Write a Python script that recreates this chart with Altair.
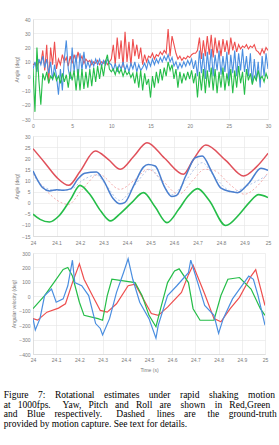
import altair as alt
import pandas as pd

# ---------------- Panel 1: 0-30 s, angle (deg) ----------------
T1 = [i * 0.25 for i in range(121)]
YAW1 = [8, 9, 7, 10,  9, 18, 4, 22,  -5, 20, 8, 24,  5, 12, 8, 15,
        10, 13, 7, 14,  9, 15, 10, 17,  11, 14, 9, 12,  10, 11, 8, 10,
        9, 11, 8, 10,  9, 11, 8, 10,  12, 22, 8, 27,  12, 25, 6, 31,
        10, 24, 7, 26,  14, 22, 12, 20,  8, 15, 10, 14,  13, 16, 12, 15,
        14, 17, 15, 18,  16, 33, 14, 28,  22, 16, 12, 14,  11, 13, 12, 14,
        13, 15, 16, 16,  18, 27, 12, 25,  14, 28, 15, 29,  13, 27, 16, 25,
        14, 26, 17, 25,  15, 27, 18, 24,  17, 22, 19, 21,  20, 22, 19, 21,
        20, 22, 18, 17,  15, 19, 16, 20,  18]
ROLL1 = [5, 10, 3, 12,  8, 14, 6, 12,  2, 10, -3, 8,  0, -13, 5, -10,
         12, 25, 5, -2,  20, 3, 15, -3,  16, 4, 17, 5,  10, 6, 11, 7,
         12, 8, 12, 7,  11, 8, 12, 9,  8, 4, 9, 3,  8, 5, 10, 4,
         8, 3, 9, 5,  10, 3, 8, 4,  6, 9, 5, 11,  7, 12, 8, 12,
         9, 13, 10, 14,  11, 15, 10, 13,  7, 10, 5, 9,  6, 10, 7, 11,
         8, 12, 5, 11,  0, 18, 2, 16,  -2, 17, 3, 19,  0, 15, 4, 18,
         1, 14, 3, 17,  -3, 15, 2, 18,  0, 16, 4, 19,  3, 14, 0, 16,
         -5, 12, -3, 10,  -8, 14, 0, 16,  5]
PITCH1 = [5, -25, 20, -3,  -20, 2, -3, 3,  -5, 0, -2, 2,  -3, 0, -5, 2,
          -4, 1, -8, 3,  -3, 4, -10, 5,  -10, 5, -9, 3,  -8, 5, -7, 6,
          -4, 7, -2, 8,  0, 10, 15, 5,  3, 5, 1, 6,  2, 5, 0, 4,
          1, 3, -1, 2,  -5, 3, -8, 4,  -10, 2, -6, -2,  -15, 0, -8, 3,
          -5, 5, -3, 6,  0, 10, 4, 8,  -2, 5, -8, 3,  -5, 2, -3, 3,
          -2, 4, -5, 2,  -15, 3, -10, 5,  -12, 4, -8, 6,  -10, 5, -12, 3,
          -8, 6, -10, 2,  -7, 5, -12, 4,  -8, 7, -5, 3,  -13, 5, -3, 2,
          -6, 0, -3, 4,  -2, 0, -4, 2,  -2]

# ---------------- Panel 2: 24-25 s, angle (deg) ----------------
T2_YAW = [24.0, 24.05, 24.1, 24.152, 24.2, 24.265, 24.32, 24.372, 24.43, 24.485,
          24.56, 24.64, 24.68, 24.735, 24.82, 24.896, 24.95, 25.0]
V2_YAW = [24.3, 18, 11.5, 7.8, 14, 23.2, 19.5, 15, 21, 27,
          20, 12.8, 19, 25.9, 19, 12, 16, 22.2]
T2_YAW_GT = [24.0, 24.06, 24.15, 24.21, 24.28, 24.37, 24.43, 24.49, 24.55, 24.62,
             24.68, 24.73, 24.77, 24.84, 24.9, 24.95, 25.0]
V2_YAW_GT = [13, 5, -0.8, 6, 12.8, 6, 10, 15, 10, 3.8,
             10, 15, 14.5, 8, 3.8, 7, 13.5]
T2_ROLL = [24.0, 24.02, 24.04, 24.07, 24.1, 24.13, 24.16, 24.19, 24.22, 24.27,
           24.3, 24.34, 24.37, 24.39, 24.43, 24.47, 24.49, 24.52, 24.56, 24.59,
           24.61, 24.65, 24.69, 24.72, 24.76, 24.8, 24.84, 24.87, 24.92, 24.97, 25.0]
V2_ROLL = [14.2, 10, 6.8, 5.3, 5.8, 5.6, 6.2, 10.5, 13.2, 13.8,
           10, 2, -0.5, 0, 8, 16, 17.2, 16.5, 7, 2.8,
           3.2, 12, 20.2, 21, 14, 6.5, 5, 4.5, 9, 15.5, 14.5]
T2_ROLL_GT = [24.0, 24.04, 24.1, 24.16, 24.21, 24.27, 24.31, 24.37, 24.43, 24.5,
              24.55, 24.59, 24.65, 24.72, 24.77, 24.85, 24.92, 25.0]
V2_ROLL_GT = [13, 7.5, 5.5, 6, 10, 12.5, 8, 1, 7.5, 15,
              9, 3.5, 10, 18, 12, 5, 8, 12.5]
T2_PITCH = [24.0, 24.03, 24.07, 24.11, 24.16, 24.2, 24.24, 24.29, 24.33, 24.37,
            24.42, 24.47, 24.52, 24.57, 24.62, 24.66, 24.7, 24.75, 24.82, 24.88,
            24.92, 24.96, 25.0]
V2_PITCH = [-5.2, -7.5, -8.7, -6, 1.5, 7.8, 4, -4, -8.2, -5,
            0, 4.5, -2, -9, -3, 3, 6.3, 1, -10.3, -5,
            0, 3.6, 2.3]

# ---------------- Panel 3: 24-25 s, angular velocity ----------------
T3_YAW = [24.0, 24.02, 24.06, 24.11, 24.14, 24.17, 24.2, 24.22, 24.26, 24.29,
          24.32, 24.36, 24.41, 24.44, 24.46, 24.51, 24.54, 24.58, 24.64, 24.67,
          24.69, 24.74, 24.78, 24.81, 24.85, 24.89, 24.94, 24.96, 25.0]
V3_YAW = [-155, -165, -110, -82, -52, 95, 225, 118, -7, -98,
          -110, -52, 73, 84, 27, -120, -132, -75, 27, 150,
          215, 16, -155, -177, -86, -7, 140, 185, -64]
T3_PITCH = [24.0, 24.05, 24.09, 24.13, 24.15, 24.17, 24.2, 24.22, 24.28, 24.3,
            24.32, 24.34, 24.39, 24.44, 24.47, 24.5, 24.53, 24.55, 24.58, 24.61,
            24.63, 24.67, 24.69, 24.72, 24.78, 24.81, 24.84, 24.89, 24.94, 24.98, 25.0]
V3_PITCH = [-86, 5, 95, 186, 200, 140, -41, -132, -155, -166,
            5, 118, 107, 95, 5, -132, -211, -86, 95, 175,
            190, 95, -86, -166, -166, 5, 118, 130, 50, -86, -132]
T3_ROLL = [24.0, 24.01, 24.03, 24.05, 24.08, 24.1, 24.13, 24.15, 24.17, 24.18,
           24.21, 24.24, 24.27, 24.29, 24.3, 24.33, 24.36, 24.39, 24.41, 24.43,
           24.46, 24.5, 24.53, 24.54, 24.58, 24.62, 24.67, 24.68, 24.71, 24.74,
           24.78, 24.8, 24.82, 24.86, 24.91, 24.93, 24.95, 24.97, 25.0]
V3_ROLL = [-155, -234, -155, 5, 50, -41, -18, 73, 250, 95,
           73, 5, -189, -223, -268, -155, 27, 163, 260, 118,
           -41, -155, -291, -200, 5, 73, 163, 250, 95, -64,
           -132, -257, -155, -18, 95, 140, 118, 5, -200]

X1_TICKS = [0, 5, 10, 15, 20, 25, 30]
X23_TICKS = [24, 24.1, 24.2, 24.3, 24.4, 24.5, 24.6, 24.7, 24.8, 24.9, 25]
Y1_TICKS = [-30, -20, -10, 0, 10, 20, 30, 40]
Y2_TICKS = [-15, -10, -5, 0, 5, 10, 15, 20, 25, 30]
Y3_TICKS = [-400, -300, -200, -100, 0, 100, 200, 300]

RED = "#ee4f4f"
GREEN = "#25bd48"
BLUE = "#4a8ee0"
FONT = "Liberation Sans"
LBL = dict(labelFont=FONT, labelFontSize=5, labelColor="#7a7a7a",
           labelOverlap=False, labelFlush=False, labelBound=False,
           labelSeparation=0, ticks=False,
           titleFont=FONT, titleFontSize=5, titleColor="#7a7a7a",
           titleFontWeight="normal",
           gridColor="#e4e4e4", gridWidth=0.6,
           domainColor="#d2d2d2", domainWidth=0.6)


def frame(t, v):
    return pd.DataFrame({"t": t, "v": v})


def panel(layers, xdom, xticks, ydom, yticks, ytitle, width, height,
          xtitle=None, xpad=4, xtpad=2):
    x = alt.X("t:Q", scale=alt.Scale(domain=xdom, nice=False, zero=False),
              axis=alt.Axis(values=xticks, format="~g", labelPadding=xpad,
                            title=xtitle, titlePadding=xtpad, **LBL))
    y = alt.Y("v:Q", scale=alt.Scale(domain=ydom, nice=False, zero=False),
              axis=alt.Axis(values=yticks, title=ytitle, labelPadding=3,
                            titlePadding=2, **LBL))
    charts = []
    for df, color, w, dash, interp in layers:
        kw = dict(color=color, strokeWidth=w, interpolate=interp, clip=True)
        if dash:
            kw["strokeDash"] = dash
        charts.append(alt.Chart(df).mark_line(**kw).encode(x=x, y=y))
    return alt.layer(*charts).properties(width=width, height=height)


p1 = panel(
    [
        (frame(T1, YAW1), RED, 1.1, None, "linear"),
        (frame(T1, ROLL1), BLUE, 1.1, None, "linear"),
        (frame(T1, PITCH1), GREEN, 1.1, None, "linear"),
    ],
    [0, 30], X1_TICKS, [-30, 40], Y1_TICKS, "Angle (deg)", 235, 100,
)

p2 = panel(
    [
        (frame(T2_YAW_GT, V2_YAW_GT), "#f2a4a4", 0.9, [2, 2], "monotone"),
        (frame(T2_ROLL_GT, V2_ROLL_GT), "#a9bfe6", 0.9, [2, 2], "monotone"),
        (frame(T2_YAW, V2_YAW), "#e0505a", 1.5, None, "monotone"),
        (frame(T2_ROLL, V2_ROLL), "#4a7fcf", 1.5, None, "monotone"),
        (frame(T2_PITCH, V2_PITCH), GREEN, 1.6, None, "monotone"),
    ],
    [24, 25], X23_TICKS, [-15, 30], Y2_TICKS, "Angle (deg)", 235, 100,
)

p3 = panel(
    [
        (frame(T3_YAW, V3_YAW), RED, 1.2, None, "linear"),
        (frame(T3_PITCH, V3_PITCH), GREEN, 1.2, None, "linear"),
        (frame(T3_ROLL, V3_ROLL), BLUE, 1.2, None, "linear"),
    ],
    [24, 25], X23_TICKS, [-400, 300], Y3_TICKS,
    "Angular velocity (deg)", 232, 101, xtitle="Time (s)", xpad=3, xtpad=5,
)


def justify(words, gaps):
    # words joined by one ordinary space plus a number of no-break spaces
    out = words[0]
    for w, g in zip(words[1:], gaps):
        out += " " + "\u00a0" * g + w
    return out


CAPTION = [
    justify(["Figure", "7:", "Rotational", "estimates", "under", "rapid", "shaking", "motion"],
            [3, 3, 3, 3, 3, 3, 3, 3]),
    justify(["at", "1000fps.", "Yaw,", "Pitch", "and", "Roll", "are", "shown", "in", "Red,Green"],
            [2, 4, 2, 2, 2, 2, 3, 3, 2]),
    justify(["and", "Blue", "respectively.", "Dashed", "lines", "are", "the", "ground-truth"],
            [3, 3, 5, 4, 3, 4, 3]),
    "provided by motion capture. See text for details.",
]

chart = alt.concat(p1, p2, p3, columns=1, spacing=6, align="none").properties(
    title=alt.TitleParams(
        text=CAPTION, orient="bottom", anchor="start", font="Liberation Serif",
        fontSize=9.5, fontWeight="normal", color="#000000", lineHeight=9.6,
        offset=18, dx=-8,
    ),
    background="white",
    padding={"left": 3, "top": 17, "right": 2, "bottom": 4},
).configure_axis(
    labelOverlap=False, labelFontSize=5, titleFontSize=5
).configure_view(stroke=None)

chart.save("out.html", embed_options={"renderer": "svg", "actions": False})
